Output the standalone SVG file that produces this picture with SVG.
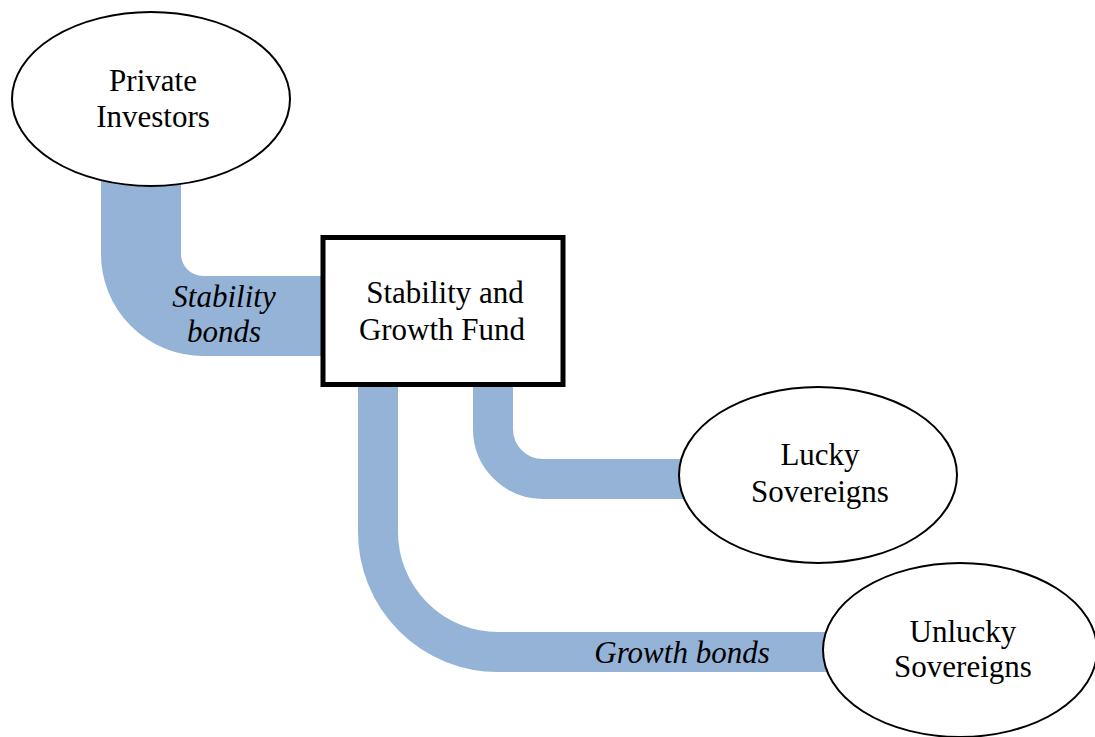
<svg xmlns="http://www.w3.org/2000/svg" width="1095" height="737" viewBox="0 0 1095 737">
<style>
.band{fill:none;stroke:#95B3D7;stroke-width:40}
.node{fill:#fff;stroke:#000;stroke-width:2}
.box{fill:#fff;stroke:#000;stroke-width:5}
text{font-family:"Liberation Serif","Times New Roman",serif;font-size:31px;fill:#000;text-anchor:middle}
.lbl{font-style:italic}
</style>
<rect width="1095" height="737" fill="#fff"/>
<g id="connectors">
<path class="band" style="stroke-width:80" d="M141,170 V254 A62,62 0 0 0 203,316 H324"/>
<path class="band" d="M493,380 V429 A50,50 0 0 0 543,479 H700"/>
<path class="band" d="M378,380 V532 A120,120 0 0 0 498,652 H840"/>
<text class="lbl" x="224" y="307">Stability</text>
<text class="lbl" x="224" y="342">bonds</text>
<text class="lbl" x="682" y="663">Growth bonds</text>
</g>
<g id="private-investors">
<ellipse class="node" cx="151" cy="99" rx="139" ry="87"/>
<text x="153" y="91">Private</text>
<text x="153" y="127">Investors</text>
</g>
<g id="fund">
<rect class="box" x="323" y="237.5" width="240" height="147"/>
<text x="445" y="303">Stability and</text>
<text x="442" y="340">Growth Fund</text>
</g>
<g id="lucky">
<ellipse class="node" cx="818" cy="475" rx="139" ry="88"/>
<text x="820" y="465">Lucky</text>
<text x="820" y="502">Sovereigns</text>
</g>
<g id="unlucky">
<ellipse class="node" cx="960" cy="650" rx="137" ry="87"/>
<text x="963" y="642">Unlucky</text>
<text x="963" y="677">Sovereigns</text>
</g>
</svg>
